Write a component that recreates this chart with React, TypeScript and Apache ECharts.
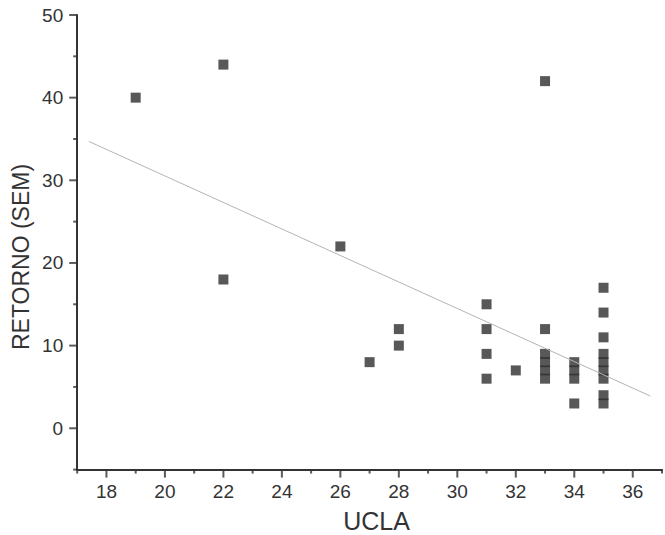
import React, { useEffect, useRef } from "react";
import * as echarts from "echarts";

// Scatter data
const ucla = [19, 22, 22, 26, 27, 28, 28, 31, 31, 31, 31, 32, 33, 33, 33, 33, 33, 33, 34, 34, 34, 34, 35, 35, 35, 35, 35, 35, 35, 35, 35];
const retorno = [40, 44, 18, 22, 8, 12, 10, 15, 12, 9, 6, 7, 42, 12, 9, 8, 7, 6, 8, 7, 6, 3, 17, 14, 11, 9, 8, 7, 6, 4, 3];

// Fitted line end points
const fitX = [17.4, 36.6];
const fitY = [34.7, 3.9];

// Axis ranges and ticks
const xRange = [17, 37];
const yRange = [-5, 50];
const xMajorTicks = [18, 20, 22, 24, 26, 28, 30, 32, 34, 36];
const xMinorTicks = [17, 19, 21, 23, 25, 27, 29, 31, 33, 35, 37];
const yMajorTicks = [0, 10, 20, 30, 40, 50];
const yMinorTicks = [-5, 5, 15, 25, 35, 45];

const xTitle = "UCLA";
const yTitle = "RETORNO (SEM)";

const FONT = "'Liberation Sans', Arial, sans-serif";
const AXIS_COLOR = "#333333";

export default function App() {
  const ref = useRef<HTMLDivElement>(null);

  useEffect(() => {
    if (!ref.current) return;
    const chart = echarts.init(ref.current, undefined, { renderer: "svg" });
    const points = ucla.map((x, i) => [x, retorno[i]]);
    const fit = fitX.map((x, i) => [x, fitY[i]]);

    const tickSeries = (data: number[][], size: number[], offset: number[]) => ({
      type: "scatter",
      data,
      symbol: "rect",
      symbolSize: size,
      symbolOffset: offset,
      clip: false,
      silent: true,
      itemStyle: { color: AXIS_COLOR },
      z: 1,
    });

    chart.setOption({
      animation: false,
      grid: { left: 77.2, right: 0, top: 15, bottom: 65.4 },
      xAxis: {
        type: "value",
        min: xRange[0],
        max: xRange[1],
        interval: 1,
        position: "bottom",
        splitLine: { show: false },
        axisLine: { show: true, onZero: false, lineStyle: { color: AXIS_COLOR, width: 2 } },
        axisTick: { show: false },
        axisLabel: {
          show: true,
          margin: 12,
          fontSize: 19,
          color: AXIS_COLOR,
          fontFamily: FONT,
          formatter: (v: number) => (xMajorTicks.indexOf(v) >= 0 ? String(v) : ""),
        },
      },
      yAxis: {
        type: "value",
        min: yRange[0],
        max: yRange[1],
        interval: 5,
        position: "left",
        splitLine: { show: false },
        axisLine: { show: true, onZero: false, lineStyle: { color: AXIS_COLOR, width: 2 } },
        axisTick: { show: false },
        axisLabel: {
          show: true,
          margin: 14,
          fontSize: 19,
          color: AXIS_COLOR,
          fontFamily: FONT,
          formatter: (v: number) => (yMajorTicks.indexOf(v) >= 0 ? String(v) : ""),
        },
      },
      graphic: [
        {
          id: "ytitle",
          type: "text",
          x: 21,
          y: 257,
          rotation: Math.PI / 2,
          style: { text: yTitle, fontSize: 23, fontFamily: FONT, fill: AXIS_COLOR, align: "center", verticalAlign: "middle" },
        },
        {
          id: "xtitle",
          type: "text",
          x: 376.6,
          y: 521,
          style: { text: xTitle, fontSize: 25, fontFamily: FONT, fill: AXIS_COLOR, align: "center", verticalAlign: "middle" },
        },
      ],
      series: [
        tickSeries(xMajorTicks.map((v) => [v, yRange[0]]), [2, 8], [0, 4]),
        tickSeries(xMinorTicks.map((v) => [v, yRange[0]]), [2, 4], [0, 2]),
        tickSeries(yMajorTicks.map((v) => [xRange[0], v]), [8, 2], [-4, 0]),
        tickSeries(yMinorTicks.map((v) => [xRange[0], v]), [4, 2], [-2, 0]),
        {
          type: "scatter",
          symbol: "rect",
          symbolSize: 10,
          itemStyle: { color: "#2e2e2e" },
          data: points,
          z: 2,
        },
        {
          type: "line",
          data: fit,
          symbol: "none",
          lineStyle: { color: "#b4b4b4", width: 1 },
          z: 3,
        },
      ],
    });
    return () => chart.dispose();
  }, []);

  return <div ref={ref} style={{ position: "absolute", left: 0, top: 0, width: 665, height: 535 }} />;
}
